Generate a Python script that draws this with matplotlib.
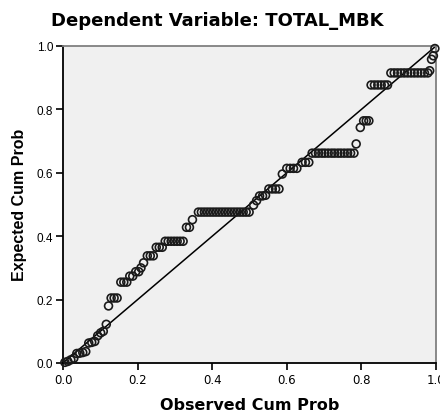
import matplotlib
matplotlib.use('Agg')
from matplotlib import pyplot as plt
import numpy as np

plt.rcParams['font.family'] = ['Liberation Sans', 'DejaVu Sans']

title = 'Dependent Variable: TOTAL_MBK'
x_label = 'Observed Cum Prob'
y_label = 'Expected Cum Prob'
tick_values = [0.0, 0.2, 0.4, 0.6, 0.8, 1.0]

# observed / expected cumulative probabilities
obs_cum_prob = [0.005, 0.013, 0.021, 0.029, 0.037, 0.045, 0.053, 0.061,
                0.069, 0.077, 0.085, 0.093, 0.101, 0.108, 0.116, 0.122,
                0.129, 0.137, 0.145,
                0.155, 0.163, 0.171,
                0.179, 0.187, 0.195, 0.203, 0.209, 0.216,
                0.226, 0.234, 0.242,
                0.250, 0.258, 0.266,
                0.274, 0.282, 0.290, 0.298, 0.306, 0.314, 0.322,
                0.331, 0.339, 0.347,
                0.363, 0.371, 0.379, 0.387, 0.395, 0.403, 0.411, 0.419, 0.427,
                0.435, 0.443, 0.451, 0.459, 0.467, 0.475, 0.483, 0.491, 0.499,
                0.511, 0.519, 0.527, 0.535, 0.543,
                0.552, 0.561, 0.570, 0.579, 0.588,
                0.600, 0.609, 0.618, 0.627,
                0.641, 0.650, 0.659,
                0.668, 0.677, 0.685, 0.694, 0.702, 0.711, 0.720, 0.728, 0.737,
                0.745, 0.754, 0.763, 0.771, 0.780,
                0.786, 0.797, 0.806, 0.813, 0.820,
                0.826, 0.835, 0.844, 0.853, 0.862, 0.870,
                0.879, 0.888, 0.897, 0.906, 0.915, 0.924, 0.933, 0.942, 0.951,
                0.960, 0.969, 0.978,
                0.983, 0.988, 0.993, 0.997]

exp_cum_prob = [0.002, 0.005, 0.010, 0.015, 0.030, 0.031, 0.033, 0.036,
                0.063, 0.065, 0.068, 0.086, 0.095, 0.100, 0.122, 0.180,
                0.205, 0.205, 0.205,
                0.255, 0.255, 0.255,
                0.274, 0.274, 0.288, 0.288, 0.300, 0.316,
                0.338, 0.338, 0.338,
                0.365, 0.365, 0.365,
                0.384, 0.384, 0.384, 0.384, 0.384, 0.384, 0.384,
                0.428, 0.428, 0.452,
                0.476, 0.476, 0.476, 0.476, 0.476, 0.476, 0.476, 0.476, 0.476,
                0.476, 0.476, 0.476, 0.476, 0.476, 0.476, 0.476, 0.476, 0.476,
                0.498, 0.512, 0.527, 0.527, 0.529,
                0.549, 0.549, 0.549, 0.549, 0.596,
                0.614, 0.614, 0.614, 0.614,
                0.633, 0.633, 0.633,
                0.662, 0.662, 0.662, 0.662, 0.662, 0.662, 0.662, 0.662, 0.662,
                0.662, 0.662, 0.662, 0.662, 0.662,
                0.691, 0.743, 0.764, 0.764, 0.764,
                0.877, 0.877, 0.877, 0.877, 0.877, 0.877,
                0.915, 0.915, 0.915, 0.915, 0.915, 0.915, 0.915, 0.915, 0.915,
                0.915, 0.915, 0.915,
                0.922, 0.958, 0.969, 0.992]

fig = plt.figure(figsize=(4.4, 4.14), dpi=100)
ax = fig.add_axes([0.1432, 0.1208, 0.8477, 0.7657])
ax.set_facecolor('#f0f0f0')

ax.plot([0, 1], [0, 1], color='black', linewidth=1.1, zorder=2)
ax.scatter(obs_cum_prob, exp_cum_prob, s=32, facecolors='none',
           edgecolors='#1a1a1a', linewidths=1.2, zorder=3, clip_on=False)

ax.set_xlim(0, 1)
ax.set_ylim(0, 1)
ax.set_xticks(tick_values)
ax.set_yticks(tick_values)
ax.set_xticklabels(['%.1f' % t for t in tick_values], family='DejaVu Sans',
                   fontsize=8.5)
ax.set_yticklabels(['%.1f' % t for t in tick_values], fontsize=8.5)
ax.tick_params(direction='out', length=5, width=1.2, colors='black', pad=2)

for side in ['left', 'bottom']:
    ax.spines[side].set_color('black')
    ax.spines[side].set_linewidth(1.3)
for side in ['top', 'right']:
    ax.spines[side].set_color('#808080')
    ax.spines[side].set_linewidth(1.3)

fig.text(0.493, 0.949, title, ha='center', va='center',
         fontsize=13, fontweight='bold', family='DejaVu Sans')
fig.text(0.568, 0.02, x_label, ha='center', va='center',
         fontsize=11.5, fontweight='bold', family='DejaVu Sans')
fig.text(0.045, 0.505, y_label, ha='center', va='center', rotation=90,
         fontsize=11.5, fontweight='bold')

plt.savefig('out.png', dpi=100)
